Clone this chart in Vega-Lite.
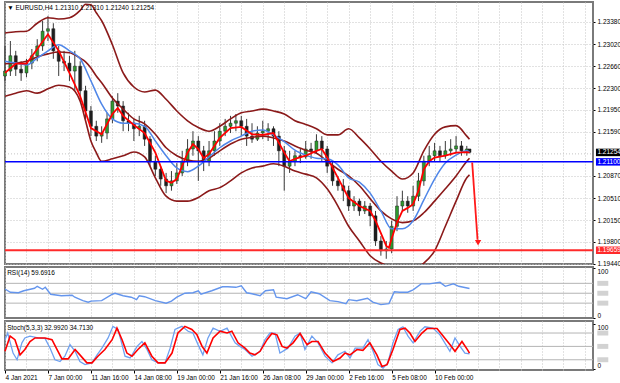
{
"$schema":"https://vega.github.io/schema/vega-lite/v6.json",
"padding":{"left":0,"right":0,"top":1,"bottom":0},
"background":"#ffffff",
"spacing":3,
"bounds":"flush",
"config":{"view":{"stroke":"#7a7a7a","strokeWidth":2},"font":"Liberation Sans","scale":{"continuousPadding":0},"axis":{"labelFont":"Liberation Sans","labelFontSize":6.5,"labelColor":"#000000","domain":false,"title":null,"labelOverlap":false},"text":{"font":"Liberation Sans"}},
"datasets":{
"candles":[
{"i":0,"o":1.2250,"h":1.2299,"l":1.2242,"c":1.2258},{"i":2,"o":1.2258,"h":1.2307,"l":1.2250,"c":1.2283},{"i":4,"o":1.2283,"h":1.2291,"l":1.2250,"c":1.2261},{"i":6,"o":1.2261,"h":1.2274,"l":1.2242,"c":1.2255},{"i":8,"o":1.2255,"h":1.2278,"l":1.2248,"c":1.2271},{"i":10,"o":1.2271,"h":1.2294,"l":1.2261,"c":1.2283},{"i":12,"o":1.2283,"h":1.2310,"l":1.2274,"c":1.2299},{"i":14,"o":1.2299,"h":1.2340,"l":1.2291,"c":1.2323},{"i":16,"o":1.2323,"h":1.2348,"l":1.2307,"c":1.2327},{"i":18,"o":1.2327,"h":1.2336,"l":1.2278,"c":1.2291},{"i":20,"o":1.2291,"h":1.2299,"l":1.2250,"c":1.2274},{"i":22,"o":1.2274,"h":1.2291,"l":1.2258,"c":1.2271},{"i":24,"o":1.2271,"h":1.2283,"l":1.2242,"c":1.2258},{"i":26,"o":1.2258,"h":1.2291,"l":1.2226,"c":1.2266},{"i":28,"o":1.2266,"h":1.2274,"l":1.2209,"c":1.2226},{"i":30,"o":1.2226,"h":1.2234,"l":1.2180,"c":1.2193},{"i":32,"o":1.2193,"h":1.2201,"l":1.2152,"c":1.2168},{"i":34,"o":1.2168,"h":1.2177,"l":1.2144,"c":1.2152},{"i":36,"o":1.2152,"h":1.2168,"l":1.2141,"c":1.2157},{"i":38,"o":1.2157,"h":1.2190,"l":1.2147,"c":1.2180},{"i":40,"o":1.2180,"h":1.2217,"l":1.2173,"c":1.2209},{"i":42,"o":1.2209,"h":1.2222,"l":1.2190,"c":1.2201},{"i":44,"o":1.2201,"h":1.2209,"l":1.2160,"c":1.2177},{"i":46,"o":1.2177,"h":1.2190,"l":1.2160,"c":1.2173},{"i":48,"o":1.2173,"h":1.2180,"l":1.2144,"c":1.2164},{"i":50,"o":1.2164,"h":1.2185,"l":1.2152,"c":1.2168},{"i":52,"o":1.2168,"h":1.2177,"l":1.2136,"c":1.2147},{"i":54,"o":1.2147,"h":1.2152,"l":1.2103,"c":1.2111},{"i":56,"o":1.2111,"h":1.2120,"l":1.2087,"c":1.2098},{"i":58,"o":1.2098,"h":1.2103,"l":1.2071,"c":1.2082},{"i":60,"o":1.2082,"h":1.2092,"l":1.2059,"c":1.2071},{"i":62,"o":1.2071,"h":1.2095,"l":1.2063,"c":1.2079},{"i":64,"o":1.2079,"h":1.2108,"l":1.2074,"c":1.2092},{"i":66,"o":1.2092,"h":1.2128,"l":1.2087,"c":1.2111},{"i":68,"o":1.2111,"h":1.2147,"l":1.2103,"c":1.2131},{"i":70,"o":1.2131,"h":1.2160,"l":1.2120,"c":1.2144},{"i":72,"o":1.2144,"h":1.2152,"l":1.2079,"c":1.2128},{"i":74,"o":1.2128,"h":1.2136,"l":1.2095,"c":1.2111},{"i":76,"o":1.2111,"h":1.2144,"l":1.2103,"c":1.2128},{"i":78,"o":1.2128,"h":1.2160,"l":1.2120,"c":1.2144},{"i":80,"o":1.2144,"h":1.2173,"l":1.2136,"c":1.2160},{"i":82,"o":1.2160,"h":1.2180,"l":1.2152,"c":1.2168},{"i":84,"o":1.2168,"h":1.2185,"l":1.2157,"c":1.2173},{"i":86,"o":1.2173,"h":1.2188,"l":1.2160,"c":1.2177},{"i":88,"o":1.2177,"h":1.2185,"l":1.2152,"c":1.2168},{"i":90,"o":1.2168,"h":1.2180,"l":1.2136,"c":1.2152},{"i":92,"o":1.2152,"h":1.2173,"l":1.2141,"c":1.2147},{"i":94,"o":1.2147,"h":1.2168,"l":1.2144,"c":1.2157},{"i":96,"o":1.2157,"h":1.2177,"l":1.2147,"c":1.2160},{"i":98,"o":1.2160,"h":1.2173,"l":1.2144,"c":1.2164},{"i":100,"o":1.2164,"h":1.2168,"l":1.2136,"c":1.2152},{"i":102,"o":1.2152,"h":1.2160,"l":1.2103,"c":1.2128},{"i":104,"o":1.2128,"h":1.2136,"l":1.2063,"c":1.2103},{"i":106,"o":1.2103,"h":1.2128,"l":1.2092,"c":1.2111},{"i":108,"o":1.2111,"h":1.2128,"l":1.2103,"c":1.2120},{"i":110,"o":1.2120,"h":1.2131,"l":1.2108,"c":1.2118},{"i":112,"o":1.2118,"h":1.2144,"l":1.2115,"c":1.2131},{"i":114,"o":1.2131,"h":1.2141,"l":1.2115,"c":1.2128},{"i":116,"o":1.2128,"h":1.2155,"l":1.2124,"c":1.2144},{"i":118,"o":1.2144,"h":1.2152,"l":1.2111,"c":1.2131},{"i":120,"o":1.2131,"h":1.2136,"l":1.2092,"c":1.2103},{"i":122,"o":1.2103,"h":1.2111,"l":1.2071,"c":1.2079},{"i":124,"o":1.2079,"h":1.2087,"l":1.2063,"c":1.2071},{"i":126,"o":1.2071,"h":1.2082,"l":1.2046,"c":1.2063},{"i":128,"o":1.2063,"h":1.2071,"l":1.2030,"c":1.2038},{"i":130,"o":1.2038,"h":1.2054,"l":1.2030,"c":1.2046},{"i":132,"o":1.2046,"h":1.2050,"l":1.2022,"c":1.2030},{"i":134,"o":1.2030,"h":1.2046,"l":1.2025,"c":1.2038},{"i":136,"o":1.2038,"h":1.2043,"l":1.2005,"c":1.2022},{"i":138,"o":1.2022,"h":1.2030,"l":1.1973,"c":1.1981},{"i":140,"o":1.1981,"h":1.1989,"l":1.1957,"c":1.1965},{"i":142,"o":1.1965,"h":1.1981,"l":1.1952,"c":1.1968},{"i":144,"o":1.1968,"h":1.2014,"l":1.1961,"c":1.2005},{"i":146,"o":1.2005,"h":1.2054,"l":1.1997,"c":1.2038},{"i":148,"o":1.2038,"h":1.2063,"l":1.2030,"c":1.2046},{"i":150,"o":1.2046,"h":1.2054,"l":1.2027,"c":1.2038},{"i":152,"o":1.2038,"h":1.2071,"l":1.2030,"c":1.2054},{"i":154,"o":1.2054,"h":1.2092,"l":1.2046,"c":1.2079},{"i":156,"o":1.2079,"h":1.2120,"l":1.2071,"c":1.2111},{"i":158,"o":1.2111,"h":1.2136,"l":1.2103,"c":1.2120},{"i":160,"o":1.2120,"h":1.2141,"l":1.2111,"c":1.2128},{"i":162,"o":1.2128,"h":1.2136,"l":1.2111,"c":1.2120},{"i":164,"o":1.2120,"h":1.2144,"l":1.2115,"c":1.2128},{"i":166,"o":1.2128,"h":1.2147,"l":1.2120,"c":1.2131},{"i":168,"o":1.2131,"h":1.2152,"l":1.2124,"c":1.2136},{"i":170,"o":1.2136,"h":1.2144,"l":1.2120,"c":1.2128},{"i":172,"o":1.2128,"h":1.2136,"l":1.2120,"c":1.2131},{"i":173,"o":1.2131,"h":1.2131,"l":1.2124,"c":1.21254}
],
"bb":[
{"i":0,"u":1.2320,"m":1.2270,"lo":1.2217},{"i":4,"u":1.2322,"m":1.2271,"lo":1.2222},{"i":8,"u":1.2323,"m":1.2274,"lo":1.2226},{"i":12,"u":1.2336,"m":1.2281,"lo":1.2222},{"i":16,"u":1.2345,"m":1.2286,"lo":1.2229},{"i":20,"u":1.2343,"m":1.2289,"lo":1.2235},{"i":24,"u":1.2345,"m":1.2288,"lo":1.2232},{"i":28,"u":1.2357,"m":1.2279,"lo":1.2209},{"i":30,"u":1.2367,"m":1.2273,"lo":1.2177},{"i":32,"u":1.2366,"m":1.2263,"lo":1.2144},{"i":34,"u":1.2353,"m":1.2250,"lo":1.2125},{"i":36,"u":1.2340,"m":1.2239,"lo":1.2111},{"i":40,"u":1.2301,"m":1.2214,"lo":1.2115},{"i":44,"u":1.2255,"m":1.2196,"lo":1.2120},{"i":48,"u":1.2232,"m":1.2180,"lo":1.2126},{"i":52,"u":1.2224,"m":1.2172,"lo":1.2118},{"i":56,"u":1.2227,"m":1.2155,"lo":1.2084},{"i":60,"u":1.2212,"m":1.2133,"lo":1.2054},{"i":64,"u":1.2193,"m":1.2120,"lo":1.2046},{"i":68,"u":1.2177,"m":1.2113,"lo":1.2046},{"i":72,"u":1.2166,"m":1.2111,"lo":1.2052},{"i":76,"u":1.2160,"m":1.2116,"lo":1.2063},{"i":80,"u":1.2168,"m":1.2128,"lo":1.2068},{"i":84,"u":1.2180,"m":1.2139,"lo":1.2079},{"i":88,"u":1.2190,"m":1.2147,"lo":1.2092},{"i":92,"u":1.2193,"m":1.2150,"lo":1.2100},{"i":96,"u":1.2196,"m":1.2152,"lo":1.2103},{"i":100,"u":1.2193,"m":1.2149,"lo":1.2107},{"i":104,"u":1.2188,"m":1.2144,"lo":1.2103},{"i":108,"u":1.2177,"m":1.2136,"lo":1.2095},{"i":112,"u":1.2171,"m":1.2129,"lo":1.2090},{"i":116,"u":1.2164,"m":1.2124,"lo":1.2084},{"i":120,"u":1.2154,"m":1.2111,"lo":1.2066},{"i":124,"u":1.2154,"m":1.2098,"lo":1.2038},{"i":128,"u":1.2164,"m":1.2087,"lo":1.2005},{"i":132,"u":1.2149,"m":1.2071,"lo":1.1981},{"i":136,"u":1.2131,"m":1.2050,"lo":1.1957},{"i":140,"u":1.2111,"m":1.2030,"lo":1.1945},{"i":144,"u":1.2095,"m":1.2017,"lo":1.1939},{"i":148,"u":1.2082,"m":1.2011,"lo":1.1935},{"i":152,"u":1.2092,"m":1.2014,"lo":1.1935},{"i":156,"u":1.2128,"m":1.2027,"lo":1.1945},{"i":160,"u":1.2155,"m":1.2046,"lo":1.1965},{"i":164,"u":1.2167,"m":1.2066,"lo":1.2005},{"i":168,"u":1.2169,"m":1.2087,"lo":1.2046},{"i":172,"u":1.2152,"m":1.2111,"lo":1.2084},{"i":173,"u":1.2147,"m":1.2116,"lo":1.2089}
],
"fast":[
{"i":0,"p":1.2255},{"i":4,"p":1.2270},{"i":8,"p":1.2270},{"i":12,"p":1.2294},{"i":16,"p":1.2318},{"i":20,"p":1.2291},{"i":24,"p":1.2255},{"i":28,"p":1.2217},{"i":32,"p":1.2165},{"i":36,"p":1.2155},{"i":40,"p":1.2188},{"i":42,"p":1.2198},{"i":44,"p":1.2185},{"i":48,"p":1.2170},{"i":52,"p":1.2157},{"i":56,"p":1.2125},{"i":60,"p":1.2079},{"i":62,"p":1.2076},{"i":64,"p":1.2082},{"i":68,"p":1.2125},{"i":70,"p":1.2139},{"i":72,"p":1.2131},{"i":74,"p":1.2116},{"i":76,"p":1.2123},{"i":80,"p":1.2149},{"i":84,"p":1.2165},{"i":88,"p":1.2167},{"i":92,"p":1.2155},{"i":96,"p":1.2154},{"i":100,"p":1.2157},{"i":104,"p":1.2125},{"i":106,"p":1.2111},{"i":108,"p":1.2115},{"i":112,"p":1.2120},{"i":116,"p":1.2128},{"i":118,"p":1.2131},{"i":120,"p":1.2117},{"i":124,"p":1.2084},{"i":128,"p":1.2051},{"i":132,"p":1.2038},{"i":136,"p":1.2030},{"i":138,"p":1.2014},{"i":140,"p":1.1994},{"i":142,"p":1.1973},{"i":143,"p":1.1970},{"i":144,"p":1.1985},{"i":146,"p":1.2011},{"i":148,"p":1.2030},{"i":150,"p":1.2035},{"i":152,"p":1.2041},{"i":154,"p":1.2063},{"i":156,"p":1.2098},{"i":158,"p":1.2111},{"i":160,"p":1.2117},{"i":164,"p":1.2120},{"i":168,"p":1.2125},{"i":172,"p":1.2126},{"i":173,"p":1.2125}
],
"slow":[
{"i":0,"p":1.2274},{"i":4,"p":1.2271},{"i":8,"p":1.2268},{"i":12,"p":1.2279},{"i":16,"p":1.2291},{"i":20,"p":1.2301},{"i":24,"p":1.2291},{"i":28,"p":1.2278},{"i":32,"p":1.2242},{"i":36,"p":1.2204},{"i":40,"p":1.2180},{"i":44,"p":1.2173},{"i":48,"p":1.2173},{"i":52,"p":1.2168},{"i":56,"p":1.2144},{"i":60,"p":1.2120},{"i":64,"p":1.2100},{"i":68,"p":1.2094},{"i":72,"p":1.2103},{"i":76,"p":1.2118},{"i":80,"p":1.2133},{"i":84,"p":1.2144},{"i":88,"p":1.2152},{"i":92,"p":1.2160},{"i":96,"p":1.2162},{"i":100,"p":1.2154},{"i":104,"p":1.2143},{"i":108,"p":1.2129},{"i":112,"p":1.2121},{"i":116,"p":1.2116},{"i":120,"p":1.2115},{"i":124,"p":1.2105},{"i":128,"p":1.2084},{"i":132,"p":1.2077},{"i":136,"p":1.2059},{"i":140,"p":1.2030},{"i":144,"p":1.2001},{"i":148,"p":1.2001},{"i":152,"p":1.2014},{"i":156,"p":1.2048},{"i":160,"p":1.2082},{"i":164,"p":1.2108},{"i":168,"p":1.2121},{"i":172,"p":1.2128},{"i":173,"p":1.2126}
],
"rsi":[
{"i":0,"v":58.6},{"i":2,"v":52},{"i":5,"v":51},{"i":7,"v":55},{"i":11,"v":60},{"i":12,"v":64},{"i":14,"v":58},{"i":15,"v":62},{"i":17,"v":48},{"i":21,"v":45},{"i":25,"v":46},{"i":26,"v":42},{"i":29,"v":35},{"i":31,"v":32},{"i":32,"v":34},{"i":36,"v":35},{"i":40,"v":48},{"i":41,"v":50},{"i":44,"v":45},{"i":47,"v":42},{"i":49,"v":37},{"i":50,"v":45},{"i":52,"v":43},{"i":56,"v":35},{"i":60,"v":30},{"i":62,"v":34},{"i":64,"v":42},{"i":67,"v":50},{"i":70,"v":51},{"i":72,"v":55},{"i":73,"v":48},{"i":77,"v":55},{"i":81,"v":63},{"i":83,"v":63},{"i":86,"v":62},{"i":88,"v":65},{"i":90,"v":51},{"i":92,"v":49},{"i":95,"v":45},{"i":97,"v":55},{"i":100,"v":57},{"i":101,"v":42},{"i":105,"v":39},{"i":109,"v":47},{"i":112,"v":39},{"i":114,"v":53},{"i":117,"v":49},{"i":121,"v":35},{"i":124,"v":33},{"i":127,"v":29},{"i":128,"v":37},{"i":131,"v":35},{"i":135,"v":40},{"i":137,"v":32},{"i":140,"v":27},{"i":143,"v":29},{"i":145,"v":53},{"i":147,"v":52},{"i":150,"v":52},{"i":152,"v":57},{"i":155,"v":69},{"i":158,"v":69},{"i":162,"v":72},{"i":164,"v":64},{"i":167,"v":69},{"i":169,"v":64},{"i":173,"v":59.7}
],
"stk":[
{"i":0,"v":65},{"i":1,"v":80},{"i":3,"v":35},{"i":4.5,"v":20},{"i":6.3,"v":58},{"i":7.4,"v":69},{"i":9.3,"v":73},{"i":12.3,"v":69},{"i":14.9,"v":68},{"i":16.8,"v":46},{"i":18.6,"v":20},{"i":20.5,"v":16},{"i":22.3,"v":28},{"i":24.2,"v":54},{"i":26.1,"v":39},{"i":27.9,"v":16},{"i":29.8,"v":9},{"i":32.4,"v":13},{"i":34.3,"v":31},{"i":36.1,"v":46},{"i":38.4,"v":69},{"i":40.2,"v":95},{"i":42.1,"v":88},{"i":43.6,"v":54},{"i":44.7,"v":28},{"i":46.6,"v":24},{"i":49.2,"v":50},{"i":51,"v":61},{"i":52.9,"v":43},{"i":54.7,"v":20},{"i":57,"v":13},{"i":59.6,"v":13},{"i":61.5,"v":46},{"i":63.3,"v":88},{"i":65.9,"v":95},{"i":68.2,"v":84},{"i":70,"v":80},{"i":71.9,"v":54},{"i":73.7,"v":31},{"i":75.6,"v":69},{"i":77.5,"v":91},{"i":80.1,"v":84},{"i":82.7,"v":91},{"i":85.7,"v":58},{"i":87.5,"v":50},{"i":89.4,"v":43},{"i":92,"v":28},{"i":95,"v":39},{"i":96.8,"v":65},{"i":98.7,"v":80},{"i":100.6,"v":79},{"i":102.4,"v":35},{"i":105.4,"v":46},{"i":108,"v":73},{"i":109.9,"v":80},{"i":111.7,"v":43},{"i":114.3,"v":73},{"i":116.6,"v":58},{"i":119.2,"v":28},{"i":121.8,"v":13},{"i":124,"v":31},{"i":126.6,"v":39},{"i":128.5,"v":24},{"i":130.4,"v":46},{"i":133.3,"v":46},{"i":135.2,"v":65},{"i":137.1,"v":39},{"i":138.9,"v":9},{"i":140.8,"v":1},{"i":142.6,"v":13},{"i":144.5,"v":58},{"i":146.4,"v":88},{"i":148.2,"v":94},{"i":150.1,"v":73},{"i":152,"v":58},{"i":154.6,"v":84},{"i":156.4,"v":94},{"i":159.4,"v":91},{"i":162,"v":76},{"i":165.7,"v":39},{"i":167.6,"v":69},{"i":169.5,"v":50},{"i":171.3,"v":35},{"i":173,"v":33}
],
"std":[
{"i":0,"v":39},{"i":1.9,"v":73},{"i":3.7,"v":65},{"i":5.6,"v":31},{"i":7.4,"v":43},{"i":9.3,"v":61},{"i":11.2,"v":69},{"i":14.9,"v":69},{"i":17.5,"v":65},{"i":19.4,"v":43},{"i":21.2,"v":22},{"i":23.5,"v":22},{"i":26.1,"v":43},{"i":27.9,"v":31},{"i":30.5,"v":13},{"i":32.4,"v":13},{"i":34.6,"v":28},{"i":37.2,"v":43},{"i":39.9,"v":65},{"i":41.7,"v":91},{"i":43.6,"v":65},{"i":45.4,"v":35},{"i":47.3,"v":28},{"i":49.5,"v":43},{"i":52.1,"v":58},{"i":54.7,"v":28},{"i":57,"v":13},{"i":59.6,"v":13},{"i":62.2,"v":35},{"i":64.4,"v":80},{"i":67,"v":95},{"i":69.6,"v":88},{"i":71.5,"v":76},{"i":73.4,"v":50},{"i":75.2,"v":35},{"i":77.5,"v":69},{"i":80.1,"v":84},{"i":82.7,"v":80},{"i":84.5,"v":84},{"i":86.8,"v":58},{"i":89.4,"v":46},{"i":91.2,"v":35},{"i":93.1,"v":31},{"i":95,"v":39},{"i":97.6,"v":65},{"i":99.4,"v":79},{"i":101.3,"v":76},{"i":103.2,"v":50},{"i":105,"v":46},{"i":107.3,"v":58},{"i":109.9,"v":79},{"i":112.5,"v":54},{"i":114.3,"v":61},{"i":116.6,"v":61},{"i":119.2,"v":35},{"i":122.2,"v":16},{"i":124.8,"v":24},{"i":126.6,"v":35},{"i":128.5,"v":31},{"i":131.1,"v":43},{"i":133.3,"v":41},{"i":135.9,"v":58},{"i":138.5,"v":31},{"i":140.4,"v":5},{"i":142.3,"v":9},{"i":144.5,"v":43},{"i":147.1,"v":88},{"i":149,"v":91},{"i":150.8,"v":80},{"i":152.7,"v":61},{"i":155.3,"v":80},{"i":157.2,"v":90},{"i":160.9,"v":90},{"i":162.8,"v":76},{"i":165.7,"v":54},{"i":167.6,"v":39},{"i":170.2,"v":61},{"i":172.4,"v":41},{"i":173,"v":34.7}
],
"pricetags":[
{"i":220.1,"p":1.21254,"lab":"1.21254","k":"bid"},{"i":220.1,"p":1.211,"lab":"1.21100","k":"level"},{"i":220.1,"p":1.19659,"lab":"1.19659","k":"target"}
]
},
"vconcat":[
{
"width":588,"height":262,
"encoding":{"x":{"field":"i","type":"quantitative","scale":{"domain":[0,219],"nice":false,"zero":false,"padding":0},"axis":{"values":[0,8,16,24,32,40,48,56,64,72,80,88,96,104,112,120,128,136,144,152,160,168,176,184,192,200,208,216],"tickCount":100,"labels":false,"ticks":false,"grid":true,"gridDash":[1,2],"gridColor":"#c4c4c4","title":null}}},
"layer":[
{"data":{"values":[{"i":0,"i2":219,"p":1.2123}]},"mark":{"type":"rule","color":"#c4c4c4","strokeDash":[1,2],"strokeWidth":1},"encoding":{"x2":{"field":"i2"},"y":{"field":"p","type":"quantitative","scale":{"domain":[1.19435,1.23706],"nice":false,"zero":false,"padding":0},"axis":{"orient":"right","values":[1.2338,1.2302,1.2266,1.223,1.2195,1.2159,1.2087,1.2051,1.2015,1.198,1.1944],"tickCount":100,"format":".5f","grid":true,"gridDash":[1,2],"gridColor":"#c4c4c4","tickSize":2,"tickColor":"#000000","labelPadding":2,"labelOverlap":false,"labelBound":false,"title":null}}}},
{"data":{"name":"candles"},"mark":{"type":"rule","color":"#3a3a3a","strokeWidth":1},"encoding":{"y":{"field":"l","type":"quantitative"},"y2":{"field":"h"}}},
{"data":{"name":"candles"},"mark":{"type":"bar","width":3,"stroke":"#222222","strokeWidth":0.5},"encoding":{"y":{"field":"o","type":"quantitative"},"y2":{"field":"c"},"color":{"condition":{"test":"datum.c >= datum.o","value":"#2e9a2e"},"value":"#1e1e1e"}}},
{"data":{"name":"bb"},"mark":{"type":"line","color":"#8b1a1a","strokeWidth":1.6,"interpolate":"monotone","clip":true},"encoding":{"y":{"field":"u","type":"quantitative"}}},
{"data":{"name":"bb"},"mark":{"type":"line","color":"#8b1a1a","strokeWidth":1.6,"interpolate":"monotone","clip":true},"encoding":{"y":{"field":"m","type":"quantitative"}}},
{"data":{"name":"bb"},"mark":{"type":"line","color":"#8b1a1a","strokeWidth":1.6,"interpolate":"monotone","clip":true},"encoding":{"y":{"field":"lo","type":"quantitative"}}},
{"data":{"name":"slow"},"mark":{"type":"line","color":"#4f86e8","strokeWidth":1.5,"interpolate":"monotone"},"encoding":{"y":{"field":"p","type":"quantitative"}}},
{"data":{"name":"fast"},"mark":{"type":"line","color":"#ff0000","strokeWidth":1.8},"encoding":{"y":{"field":"p","type":"quantitative"}}},
{"data":{"values":[{"i":0,"i2":219,"p":1.211,"k":"level"},{"i":0,"i2":219,"p":1.19659,"k":"target"}]},"mark":{"type":"rule"},"encoding":{"x2":{"field":"i2"},"y":{"field":"p","type":"quantitative"},"color":{"field":"k","type":"nominal","scale":{"domain":["bid","level","target"],"range":["#000000","#0000ff","#ff2a2a"]},"legend":null},"strokeWidth":{"field":"k","type":"nominal","scale":{"domain":["level","target"],"range":[1.5,2]},"legend":null}}},
{"data":{"values":[{"i":174,"i2":176,"p":1.2109,"p2":1.1983}]},"mark":{"type":"rule","color":"#ff1a1a","strokeWidth":1.8},"encoding":{"x2":{"field":"i2"},"y":{"field":"p","type":"quantitative"},"y2":{"field":"p2"}}},
{"data":{"values":[{"i":176.2,"p":1.1978}]},"mark":{"type":"point","shape":"triangle-down","filled":true,"color":"#ff1a1a","size":40,"opacity":1},"encoding":{"y":{"field":"p","type":"quantitative"}}},
{"data":{"name":"pricetags"},"mark":{"type":"point","shape":"M0,-0.3H2V0.3H0Z","filled":true,"size":625,"opacity":1},"encoding":{"y":{"field":"p","type":"quantitative"},"color":{"field":"k","type":"nominal","scale":{"domain":["bid","level","target"],"range":["#000000","#0000ff","#ff2a2a"]},"legend":null}}},
{"data":{"name":"pricetags"},"mark":{"type":"text","align":"left","baseline":"middle","dx":1.5,"color":"#ffffff","fontSize":6.5},"encoding":{"y":{"field":"p","type":"quantitative"},"text":{"field":"lab"}}},
{"data":{"values":[{"i":0.8,"p":1.2361,"t":"▼ EURUSD,H4  1.21310 1.21310 1.21240 1.21254"}]},"mark":{"type":"text","align":"left","baseline":"middle","fontSize":6.5,"color":"#000000"},"encoding":{"y":{"field":"p","type":"quantitative"},"text":{"field":"t"}}}
]
},
{
"width":588,"height":51,
"encoding":{"x":{"field":"i","type":"quantitative","scale":{"domain":[0,219],"nice":false,"zero":false,"padding":0},"axis":{"values":[0,8,16,24,32,40,48,56,64,72,80,88,96,104,112,120,128,136,144,152,160,168,176,184,192,200,208,216],"tickCount":100,"labels":false,"ticks":false,"grid":true,"gridDash":[1,2],"gridColor":"#c4c4c4","title":null}}},
"layer":[
{"data":{"values":[{"i":0,"i2":219,"v":30},{"i":0,"i2":219,"v":50},{"i":0,"i2":219,"v":70}]},"mark":{"type":"rule","color":"#b4b4b4","strokeWidth":1},"encoding":{"x2":{"field":"i2"},"y":{"field":"v","type":"quantitative","scale":{"domain":[0,103],"nice":false,"zero":false,"padding":0},"axis":{"orient":"right","values":[0,100],"labelBaseline":{"condition":{"test":"datum.value == 100","value":"top"},"value":"bottom"},"grid":false,"tickSize":2,"tickColor":"#000000","labelPadding":2,"title":null}}}},
{"data":{"name":"rsi"},"mark":{"type":"line","color":"#6495ed","strokeWidth":1.4},"encoding":{"y":{"field":"v","type":"quantitative"}}},
{"data":{"values":[{"i":220.6,"v":70},{"i":220.6,"v":50},{"i":220.6,"v":30}]},"mark":{"type":"point","shape":"M0,-0.45H2V0.45H0Z","filled":true,"size":121,"opacity":1,"color":"#d2d2d2"},"encoding":{"y":{"field":"v","type":"quantitative"}}},
{"data":{"values":[{"i":0.8,"v":91,"t":"RSI(14) 59.6916"}]},"mark":{"type":"text","align":"left","baseline":"middle","fontSize":6.5,"color":"#000000"},"encoding":{"y":{"field":"v","type":"quantitative"},"text":{"field":"t"}}}
]
},
{
"width":588,"height":49,
"encoding":{"x":{"field":"i","type":"quantitative","scale":{"domain":[0,219],"nice":false,"zero":false,"padding":0},"axis":{"values":[0,8,16,24,32,40,48,56,64,72,80,88,96,104,112,120,128,136,144,152,160,168,176,184,192,200,208,216],"tickCount":100,"grid":true,"gridDash":[1,2],"gridColor":"#c4c4c4","labelExpr":"(datum.value % 16 == 0 && datum.value <= 160) ? ['4 Jan 2021','7 Jan 00:00','11 Jan 16:00','14 Jan 08:00','19 Jan 00:00','21 Jan 16:00','26 Jan 08:00','29 Jan 00:00','2 Feb 16:00','5 Feb 08:00','10 Feb 00:00'][datum.value/16] : ''","labelAlign":"left","labelOverlap":false,"labelBound":false,"labelFlush":false,"labelPadding":1,"tickSize":3,"tickColor":"#000000","tickOpacity":{"condition":{"test":"datum.value % 16 == 0 && datum.value <= 160","value":1},"value":0},"title":null}}},
"layer":[
{"data":{"values":[{"i":0,"i2":219,"v":20},{"i":0,"i2":219,"v":50},{"i":0,"i2":219,"v":80}]},"mark":{"type":"rule","color":"#b4b4b4","strokeWidth":1},"encoding":{"x2":{"field":"i2"},"y":{"field":"v","type":"quantitative","scale":{"domain":[-3,107],"nice":false,"zero":false,"padding":0},"axis":{"orient":"right","values":[0,100],"labelBaseline":{"condition":{"test":"datum.value == 100","value":"top"},"value":"bottom"},"grid":false,"tickSize":2,"tickColor":"#000000","labelPadding":2,"title":null}}}},
{"data":{"name":"stk"},"mark":{"type":"line","color":"#6ea0f0","strokeWidth":1.3},"encoding":{"y":{"field":"v","type":"quantitative"}}},
{"data":{"name":"std"},"mark":{"type":"line","color":"#ff0000","strokeWidth":1.6},"encoding":{"y":{"field":"v","type":"quantitative"}}},
{"data":{"values":[{"i":220.6,"v":80},{"i":220.6,"v":50},{"i":220.6,"v":20}]},"mark":{"type":"point","shape":"M0,-0.45H2V0.45H0Z","filled":true,"size":121,"opacity":1,"color":"#d2d2d2"},"encoding":{"y":{"field":"v","type":"quantitative"}}},
{"data":{"values":[{"i":0.8,"v":91,"t":"Stoch(5,3,3) 32.9920 34.7130"}]},"mark":{"type":"text","align":"left","baseline":"middle","fontSize":6.5,"color":"#000000"},"encoding":{"y":{"field":"v","type":"quantitative"},"text":{"field":"t"}}}
]
}
]
}
